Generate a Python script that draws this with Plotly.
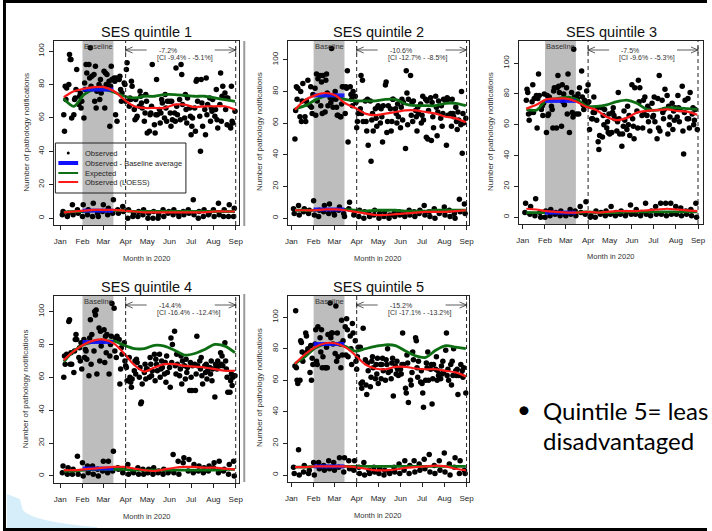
import pandas as pd
import plotly.graph_objects as go

W, H = 712, 531
FONT = "Liberation Sans, Arial, sans-serif"

# ---------------- data ----------------
panel_titles = ["SES quintile 1", "SES quintile 2", "SES quintile 3", "SES quintile 4", "SES quintile 5"]
change_pct = ["-7.2%", "-10.6%", "-7.5%", "-14.4%", "-15.2%"]
change_ci = ["[CI -9.4% - -5.1%]", "[CI -12.7% - -8.5%]", "[CI -9.6% - -5.3%]",
             "[CI -16.4% - -12.4%]", "[CI -17.1% - -13.2%]"]
month_labels = ["Jan", "Feb", "Mar", "Apr", "May", "Jun", "Jul", "Aug", "Sep"]
month_ticks = ["2020-01-01", "2020-02-01", "2020-03-01", "2020-04-01", "2020-05-01",
               "2020-06-01", "2020-07-01", "2020-08-01", "2020-09-01"]
y_ticks = [0, 20, 40, 60, 80, 100]
baseline_period = ["2020-02-01", "2020-03-15"]
post_period = ["2020-04-01", "2020-09-01"]

# weekday observed counts (Jan 6 - Aug 31)
q1_weekday = [62, 52, 79, 71, 78, 80, 98, 95, 95, 60, 62, 71, 72, 77, 89, 68, 73, 75, 66, 70,
              60, 81, 77, 92, 87, 92, 84, 102, 79, 85, 86, 70, 91, 66, 76, 80, 71, 83, 75, 78,
              88, 66, 87, 80, 86, 82, 55, 79, 91, 83, 84, 82, 62, 84, 58, 83, 85, 77, 70, 75, 81, 80,
              70, 89, 93, 67, 72, 71, 82, 79, 65, 59, 71, 60, 61, 67, 76, 73, 69, 66, 58, 63, 74, 70,
              51, 52, 62, 63, 67, 92, 56, 51, 62, 83, 62, 65, 57, 63, 71, 69, 60, 74, 66, 58, 70,
              70, 63, 55, 70, 59, 63, 58, 90, 67, 62, 71, 59, 92, 86, 68, 60, 74, 65, 57, 72, 66, 61,
              50, 55, 60, 66, 52, 82, 83, 70, 61, 40, 83, 69, 55, 65, 50, 84, 62, 68, 72, 58, 66, 64, 71,
              61, 65, 77, 59, 54, 68, 87, 58, 73, 79, 75, 65, 72, 56, 72, 55, 54, 79, 58, 57, 64]
q2_weekday = [50, 68, 83, 75, 82, 64, 80, 61, 74, 85, 64, 61, 74, 72, 87, 71, 83, 70, 66, 78,
              82, 65, 91, 74, 88, 90, 71, 86, 66, 90, 67, 87, 91, 79, 71, 76, 73, 107, 75, 70,
              80, 75, 70, 65, 65, 64, 64, 72, 83, 83, 66, 83, 82, 93, 48, 83, 78, 75, 71, 80, 77, 73,
              57, 61, 66, 69, 90, 66, 87, 61, 74, 61, 55, 75, 46, 74, 36, 62, 66, 55, 69, 63, 58, 70,
              71, 60, 69, 64, 48, 71, 84, 86, 54, 61, 71, 69, 55, 61, 75, 75, 69, 66, 60, 72, 64,
              57, 70, 75, 62, 73, 44, 93, 79, 59, 75, 90, 65, 73, 61, 74, 68, 64, 55, 70, 66, 72, 60,
              65, 77, 62, 75, 51, 74, 50, 68, 76, 49, 73, 64, 57, 77, 70, 52, 67, 74, 63, 71, 58, 66, 75,
              74, 46, 76, 65, 75, 66, 58, 75, 66, 64, 70, 61, 56, 67, 62, 59, 80, 41, 66, 60, 63]
q3_weekday = [76, 83, 81, 67, 63, 68, 75, 86, 68, 77, 79, 58, 77, 93, 79, 70, 72, 66, 74, 80,
              55, 79, 66, 67, 78, 72, 70, 58, 82, 84, 58, 84, 92, 85, 81, 59, 86, 75, 80, 73,
              84, 67, 93, 77, 55, 81, 68, 65, 109, 78, 67, 77, 80, 67, 84, 95, 78, 73, 70, 76, 82, 74,
              86, 75, 57, 64, 64, 68, 78, 68, 63, 71, 49, 44, 53, 71, 52, 66, 60, 70, 58, 62, 55, 67,
              54, 55, 68, 71, 66, 64, 56, 62, 81, 64, 54, 46, 54, 59, 69, 63, 57, 72, 60, 66, 53,
              86, 64, 59, 51, 84, 69, 58, 89, 75, 84, 66, 58, 76, 67, 78, 66, 72, 62, 70, 56, 74, 65,
              66, 78, 62, 51, 77, 58, 92, 56, 76, 68, 64, 70, 83, 79, 54, 72, 60, 65, 74, 57, 69, 63, 71,
              65, 79, 71, 62, 70, 85, 56, 41, 68, 76, 64, 77, 64, 58, 81, 67, 71, 60, 63, 70, 57]
q4_weekday = [60, 73, 68, 73, 74, 94, 95, 68, 75, 68, 63, 76, 83, 86, 83, 72, 78, 70, 81, 65,
              83, 72, 77, 76, 71, 61, 84, 95, 68, 86, 76, 100, 98, 101, 62, 90, 70, 88, 79, 82,
              89, 69, 85, 75, 86, 62, 73, 80, 85, 105, 102, 76, 84, 72, 85, 83, 56, 65, 78, 74, 81, 70,
              67, 66, 58, 72, 60, 57, 54, 59, 64, 70, 62, 71, 69, 60, 66, 44, 45, 56, 63, 68, 59, 65,
              65, 60, 72, 68, 61, 64, 74, 58, 71, 68, 64, 74, 60, 65, 70, 66, 62, 69, 57, 73, 63,
              66, 54, 84, 69, 80, 88, 67, 62, 74, 68, 61, 65, 73, 56, 70, 67, 59, 71, 63, 66, 52, 69,
              60, 52, 67, 68, 52, 62, 85, 67, 70, 65, 72, 61, 56, 67, 63, 68, 59, 64, 66, 62, 70, 58, 65,
              48, 68, 66, 65, 70, 67, 75, 68, 73, 67, 81, 70, 65, 60, 51, 51, 58, 62, 55, 60, 61]
q5_weekday = [69, 104, 68, 60, 58, 60, 85, 84, 78, 72, 77, 90, 88, 78, 80, 65, 82, 60, 74, 70,
              83, 92, 72, 70, 94, 87, 78, 92, 68, 75, 68, 68, 81, 68, 89, 109, 87, 90, 90, 83,
              77, 107, 72, 90, 75, 83, 68, 98, 76, 85, 94, 76, 99, 92, 75, 88, 80, 70, 96, 90, 85, 72,
              67, 75, 81, 81, 58, 55, 59, 93, 73, 57, 51, 71, 66, 56, 62, 72, 75, 68, 61, 70, 64, 74,
              58, 70, 61, 70, 74, 66, 60, 73, 70, 80, 65, 66, 61, 71, 74, 50, 69, 64, 72, 67, 63,
              67, 64, 70, 90, 70, 55, 52, 76, 71, 46, 60, 57, 65, 78, 73, 87, 85, 68, 62, 72, 59, 66,
              58, 52, 43, 60, 71, 68, 78, 60, 67, 70, 45, 61, 70, 67, 75, 60, 66, 63, 61, 69, 64, 72, 65,
              79, 90, 63, 67, 60, 70, 57, 72, 63, 80, 66, 63, 67, 51, 63, 70, 63, 66, 62, 68, 52]

# weekend observed counts (Jan 4 - Aug 30)
q1_weekend = [2, 4, 1, 3, 8, 2, 5, 3, 1, 8, 2, 5, 1, 9, 3, 1, 4, 8, 2, 6, 3, 11, 5, 3, 7, 4,
              0, 5, 1, 3, 1, 4, 2, 5, 0, 3, 0, 4, 0, 2, 5, 1, 3, 4, 2, 5, 3, 1, 4, 2, 5, 3,
              11, 2, 0, 4, 1, 5, 2, 3, 5, 1, 9, 2, 1, 5, 1, 8, 1, 6]
q2_weekend = [6, 3, 8, 2, 4, 6, 3, 5, 11, 2, 1, 5, 4, 8, 3, 9, 4, 2, 5, 7, 3, 1, 6, 10, 2, 4,
              1, 5, 0, 4, 3, 1, 2, 5, 0, 3, 1, 4, 0, 2, 3, 1, 4, 2, 3, 1, 5, 2, 4, 1, 3, 5,
              8, 2, 4, 1, 6, 0, 3, 4, 7, 2, 5, 1, 3, 0, 12, 4, 9, 3]
q3_weekend = [3, 9, 2, 7, 1, 12, 3, 0, 0, 4, 1, 5, 2, 3, 1, 4, 2, 1, 5, 2, 4, 1, 7, 3, 2, 10,
              0, 1, 0, 4, 2, 3, 1, 4, 2, 7, 1, 3, 2, 4, 1, 3, 8, 2, 2, 5, 1, 3, 9, 2, 1, 4,
              7, 2, 9, 2, 9, 1, 9, 2, 7, 2, 6, 1, 4, 2, 5, 1, 9, 0]
q4_weekend = [2, 6, 1, 5, 1, 4, 12, 1, 8, 0, 6, 2, 6, 1, 4, 0, 3, 9, 2, 9, 3, 15, 5, 4, 2, 4,
              7, 1, 3, 2, 5, 1, 4, 1, 2, 4, 1, 5, 2, 3, 1, 4, 2, 3, 13, 2, 9, 1, 8, 11, 3, 10,
              2, 7, 3, 6, 2, 5, 3, 6, 5, 8, 2, 9, 3, 4, 1, 7, 9, 0]
q5_weekend = [5, 1, 16, 0, 2, 6, 1, 3, 8, 0, 8, 4, 6, 3, 9, 4, 8, 3, 5, 11, 2, 11, 9, 4, 3, 9,
              5, 1, 8, 0, 3, 1, 5, 2, 1, 4, 0, 3, 2, 1, 5, 2, 7, 1, 3, 9, 1, 6, 9, 2, 7, 3,
              10, 4, 13, 2, 6, 1, 9, 3, 14, 2, 7, 0, 5, 11, 1, 9, 3, 1]

# fitted curves (fortnightly reading points)
curve_dates = ["2020-01-06", "2020-01-20", "2020-02-03", "2020-02-17", "2020-03-02", "2020-03-16",
               "2020-03-30", "2020-04-13", "2020-04-27", "2020-05-11", "2020-05-25", "2020-06-08",
               "2020-06-22", "2020-07-06", "2020-07-20", "2020-08-03", "2020-08-17", "2020-08-31"]
q1_expected = [71.5, 67, 74, 77, 77, 75.5, 73, 72, 73, 73, 74, 74, 73.5, 73, 73, 72, 71, 70]
q1_loess = [72.5, 76, 77.5, 78.5, 78.5, 76, 71, 67, 66, 66, 66, 68, 68, 66.5, 67, 67, 67, 65]
q1_expected_we = [3.5, 4, 4, 4.5, 4.5, 4.5, 4.5, 4, 4, 4, 4, 4, 4, 4, 4, 4, 4, 4]
q1_loess_we = [3.5, 4, 4.5, 5, 5, 5, 4.5, 4, 3.5, 3.5, 3.5, 3.5, 3.5, 3.5, 3.5, 4, 4, 4]
q2_expected = [69, 71, 74.5, 77, 77, 75, 74, 74, 74, 75, 75, 72, 71, 71, 71, 72.5, 72.5, 71]
q2_loess = [68.5, 74.5, 77.5, 79, 77.5, 72.5, 69.5, 66, 65, 66, 67, 68, 68, 67, 66, 64, 63, 60.5]
q2_expected_we = [5, 5, 5, 5.5, 5.5, 5.5, 5, 4.5, 5, 5, 5, 4.5, 4.5, 4.5, 5, 5, 5, 5]
q2_loess_we = [5, 5, 5, 5.5, 5.5, 5, 4, 3, 2, 2, 2.5, 3, 3.5, 4, 4, 4, 4.5, 5]
q3_expected = [70, 69.5, 76, 77, 78, 76.5, 72, 72, 73, 75, 76, 74, 70, 69.5, 71, 71, 70.5, 70]
q3_loess = [70.5, 73, 76.5, 77, 77, 75, 71.5, 69.5, 65, 63, 64.5, 68, 69, 69.5, 70, 69, 68.5, 66.5]
q3_expected_we = [3, 3, 3, 3, 3, 3, 3.5, 3, 3, 3, 3.5, 3.5, 3.5, 3.5, 3.5, 3.5, 3.5, 3.5]
q3_loess_we = [5.5, 5, 4, 3.5, 3, 3, 3.5, 3, 3.5, 4, 4, 4, 4.5, 5, 5.5, 5, 4.5, 4]
q4_expected = [69.5, 76, 80, 81.5, 82, 82, 79.5, 77.5, 77.5, 79.5, 79, 76.5, 73.5, 74.5, 77, 80, 79, 75]
q4_loess = [70.5, 76, 80, 82.5, 83, 80.5, 74.5, 67.5, 63.5, 66, 68, 68, 67, 66.5, 66, 65, 64, 64]
q4_expected_we = [3, 3, 3.5, 4, 4, 4, 4, 3.5, 3.5, 3.5, 3.5, 3.5, 3.5, 3.5, 3.5, 3.5, 4, 4]
q4_loess_we = [3.5, 3.5, 4, 4.5, 5, 5.5, 5.5, 4.5, 3.5, 3, 4, 5, 5.5, 5.5, 5, 5, 4.5, 4]
q5_expected = [70.5, 75, 80.5, 83, 83, 81.5, 78.5, 80, 81.5, 82.5, 82, 78.5, 75.5, 74.5, 79, 82, 81, 80]
q5_loess = [70.5, 76.5, 81, 83.5, 83.5, 81, 76, 70, 67.5, 67, 68.5, 68.5, 67.5, 67, 67, 66, 65, 62.5]
q5_expected_we = [5, 5, 5.5, 5.5, 5.5, 5.5, 5.5, 5.5, 5.5, 5.5, 5.5, 5.5, 5.5, 5.5, 5.5, 5.5, 5.5, 5.5]
q5_loess_we = [5, 5, 5.5, 5.5, 5.5, 5.5, 5, 4, 3, 3, 3.5, 4.5, 5, 5.5, 6, 5.5, 4, 3]

baseline_avg = [77, 77.5, 75.5, 81.5, 83]
baseline_avg_we = [4.5, 5.5, 3, 4.5, 5.5]

weekday_series = [q1_weekday, q2_weekday, q3_weekday, q4_weekday, q5_weekday]
weekend_series = [q1_weekend, q2_weekend, q3_weekend, q4_weekend, q5_weekend]
expected_series = [q1_expected, q2_expected, q3_expected, q4_expected, q5_expected]
loess_series = [q1_loess, q2_loess, q3_loess, q4_loess, q5_loess]
expected_we_series = [q1_expected_we, q2_expected_we, q3_expected_we, q4_expected_we, q5_expected_we]
loess_we_series = [q1_loess_we, q2_loess_we, q3_loess_we, q4_loess_we, q5_loess_we]

# ---------------- layout geometry (pixels) ----------------
boxes = [(52, 41, 239, 225), (288, 41, 471, 225), (522, 41, 708, 224),
         (52, 296, 239, 483), (288, 296, 471, 482)]
y_ranges = [[-4.1, 106.1], [-4.3, 111.8], [-4.4, 114.4], [-4.3, 109.5], [-4.4, 113.4]]
x_ranges = [["2019-12-24", "2020-09-06"], ["2019-12-27", "2020-09-04"], ["2019-12-27", "2020-09-08"],
            ["2019-12-24", "2020-09-06"], ["2019-12-27", "2020-09-04"]]

GREEN = "#0d6e14"
RED = "#ff1a1a"
BLUE = "#1010ff"
TXT = "#262626"


def px(x):
    return x / W


def py(y):
    return 1 - y / H


weekday_dates = pd.bdate_range("2020-01-06", periods=len(q1_weekday))
all_days = pd.date_range("2020-01-04", "2020-08-30")
weekend_dates = all_days[all_days.weekday >= 5]

fig = go.Figure()
shapes = []
annotations = []

for i in range(5):
    n = i + 1
    xr = "x" if n == 1 else f"x{n}"
    yr = "y" if n == 1 else f"y{n}"
    l, t, r, b = boxes[i]
    box_h = b - t

    # points
    fig.add_trace(go.Scatter(x=weekday_dates, y=weekday_series[i][:len(weekday_dates)], mode="markers",
                             marker=dict(size=5.5, color="black"), xaxis=xr, yaxis=yr, hoverinfo="skip"))
    fig.add_trace(go.Scatter(x=weekend_dates[:len(weekend_series[i])], y=weekend_series[i], mode="markers",
                             marker=dict(size=5.5, color="black"), xaxis=xr, yaxis=yr, hoverinfo="skip"))
    # expected
    for ys in (expected_series[i], expected_we_series[i]):
        fig.add_trace(go.Scatter(x=curve_dates, y=ys, mode="lines",
                                 line=dict(color=GREEN, width=2.8, shape="spline", smoothing=0.8),
                                 xaxis=xr, yaxis=yr, hoverinfo="skip"))
    # baseline averages
    for bv in (baseline_avg[i], baseline_avg_we[i]):
        fig.add_trace(go.Scatter(x=baseline_period, y=[bv, bv], mode="lines",
                                 line=dict(color=BLUE, width=4), opacity=0.9,
                                 xaxis=xr, yaxis=yr, hoverinfo="skip"))
    # loess
    for ys in (loess_series[i], loess_we_series[i]):
        fig.add_trace(go.Scatter(x=curve_dates, y=ys, mode="lines",
                                 line=dict(color=RED, width=2.2, shape="spline", smoothing=0.8),
                                 xaxis=xr, yaxis=yr, hoverinfo="skip"))

    axis_common = dict(showline=True, linecolor="#222", linewidth=1, mirror=True, showgrid=False,
                       zeroline=False, ticks="outside", ticklen=4, tickwidth=1, tickcolor="#222",
                       tickfont=dict(size=8, color=TXT, family=FONT))
    fig.layout[f"xaxis{'' if n == 1 else n}"] = dict(
        domain=[px(l), px(r)], range=x_ranges[i], type="date", anchor=yr,
        tickmode="array", tickvals=month_ticks, ticktext=month_labels, ticklabelstandoff=4, **axis_common)
    fig.layout[f"yaxis{'' if n == 1 else n}"] = dict(
        domain=[py(b), py(t)], range=y_ranges[i], anchor=xr,
        tickmode="array", tickvals=y_ticks, tickangle=-90, ticklabelstandoff=2, **axis_common)

    # baseline shading
    shapes.append(dict(type="rect", xref=xr, yref=f"{yr} domain", x0=baseline_period[0], x1=baseline_period[1],
                       y0=0, y1=1, fillcolor="#bdbdbd", line=dict(width=0), layer="below"))
    # dashed lines
    for xd in post_period:
        shapes.append(dict(type="line", xref=xr, yref=f"{yr} domain", x0=xd, x1=xd, y0=0, y1=1,
                           line=dict(color="#222", width=1, dash="4px,3px")))
    # arrows
    ay = 1 - 9 / box_h
    for xd, sgn in ((post_period[0], 1), (post_period[1], -1)):
        shapes.append(dict(type="line", xref=xr, yref=f"{yr} domain", xsizemode="pixel", xanchor=xd,
                           x0=0, x1=21 * sgn, y0=ay, y1=ay, line=dict(color="#333", width=0.8)))
        for dy in (3, -3):
            shapes.append(dict(type="line", xref=xr, yref=f"{yr} domain", xsizemode="pixel", xanchor=xd,
                               ysizemode="pixel", yanchor=ay, x0=0, x1=7 * sgn, y0=0, y1=dy,
                               line=dict(color="#333", width=0.8)))
        shapes.append(dict(type="line", xref=xr, yref=f"{yr} domain", xsizemode="pixel", xanchor=xd,
                           ysizemode="pixel", yanchor=ay, x0=0, x1=0, y0=-3.5, y1=3.5,
                           line=dict(color="#333", width=0.8)))
    annotations.append(dict(text=change_pct[i], xref=xr, yref=f"{yr} domain", x=post_period[0], xshift=31,
                            y=1 - 9 / box_h, xanchor="left", yanchor="middle", showarrow=False,
                            font=dict(size=7, color="#333", family=FONT)))
    annotations.append(dict(text=change_ci[i], xref=xr, yref=f"{yr} domain", x=post_period[0], xshift=29,
                            y=1 - 17 / box_h, xanchor="left", yanchor="middle", showarrow=False,
                            font=dict(size=7, color="#333", family=FONT)))
    annotations.append(dict(text="Baseline", xref=xr, yref=f"{yr} domain", x="2020-02-23",
                            y=1 - 5 / box_h, xanchor="center", yanchor="middle", showarrow=False,
                            font=dict(size=7.5, color="#333", family=FONT)))
    # titles
    annotations.append(dict(text=panel_titles[i], xref="paper", yref="paper", x=px((l + r) / 2), y=py(t - 9),
                            xanchor="center", yanchor="middle", showarrow=False,
                            font=dict(size=14.5, color="#111", family=FONT)))
    annotations.append(dict(text="Month in 2020", xref="paper", yref="paper", x=px((l + r) / 2), y=py(b + 33),
                            xanchor="center", yanchor="middle", showarrow=False,
                            font=dict(size=7.5, color="#333", family=FONT)))
    annotations.append(dict(text="Number of pathology notifications", xref="paper", yref="paper",
                            x=px(l - 29), y=py((t + b) / 2 - 1), textangle=-90,
                            xanchor="center", yanchor="middle", showarrow=False,
                            font=dict(size=8, color="#333", family=FONT)))

# legend drawn in quintile-1 panel
leg_items = [("Observed", None, 0), ("Observed - Baseline average", BLUE, 4),
             ("Expected", GREEN, 2), ("Observed (LOESS)", RED, 2)]
shapes.append(dict(type="rect", xref="paper", yref="paper", x0=px(53), x1=px(185), y0=py(193), y1=py(143),
                   line=dict(color="#222", width=1), fillcolor="rgba(0,0,0,0)"))
for k, (lab, col, wd) in enumerate(leg_items):
    yy = [153, 163, 173, 182][k]
    if col is None:
        shapes.append(dict(type="circle", xref="paper", yref="paper", x0=px(64.5), x1=px(67.5),
                           y0=py(yy + 1.5), y1=py(yy - 1.5), fillcolor="black", line=dict(width=0)))
    else:
        shapes.append(dict(type="line", xref="paper", yref="paper", x0=px(56), x1=px(76), y0=py(yy), y1=py(yy),
                           line=dict(color=col, width=wd)))
    annotations.append(dict(text=lab, xref="paper", yref="paper", x=px(81), y=py(yy), xanchor="left",
                            yanchor="middle", showarrow=False, font=dict(size=7.5, color=TXT, family=FONT)))

# slide decorations
shapes.append(dict(type="line", xref="paper", yref="paper", x0=px(244), x1=px(244), y0=py(226), y1=py(41),
                   line=dict(color="#9a9a9a", width=2)))
shapes.append(dict(type="line", xref="paper", yref="paper", x0=px(244), x1=px(244), y0=py(482), y1=py(294),
                   line=dict(color="#9a9a9a", width=2)))


def P(x, y):
    return f"{px(x):.5f},{py(y):.5f}"


shapes.append(dict(type="path", xref="paper", yref="paper",
                   path=f"M {P(4,494)} L {P(17,499)} L {P(20,510)} Q {P(30,522)} {P(95,527)} L {P(95,528)} L {P(4,528)} Z",
                   fillcolor="#d6eef9", line=dict(width=0)))
for (x0, y0, x1, y1) in [(0, 0, 712, 3), (0, 0, 3, 531), (0, 528, 712, 531)]:
    shapes.append(dict(type="rect", xref="paper", yref="paper", x0=px(x0), x1=px(x1), y0=py(y1), y1=py(y0),
                       fillcolor="black", line=dict(width=0)))

SLIDE_FONT = "Lato, Carlito, sans-serif"
annotations.append(dict(text="•", xref="paper", yref="paper", x=px(527), y=py(408), xanchor="center",
                        yanchor="middle", showarrow=False, font=dict(size=24, color="black", family=SLIDE_FONT)))
annotations.append(dict(text="Quintile 5= leas", xref="paper", yref="paper", x=px(544), y=py(410), xanchor="left",
                        yanchor="middle", showarrow=False, font=dict(size=24, color="black", family=SLIDE_FONT)))
annotations.append(dict(text="disadvantaged", xref="paper", yref="paper", x=px(544), y=py(440), xanchor="left",
                        yanchor="middle", showarrow=False, font=dict(size=24, color="black", family=SLIDE_FONT)))

fig.update_layout(width=W, height=H, margin=dict(l=0, r=0, t=0, b=0), paper_bgcolor="white",
                  plot_bgcolor="white", showlegend=False, shapes=shapes, annotations=annotations,
                  font=dict(family=FONT))
fig.write_html("out.html", config={"displayModeBar": False},
               post_script="document.body.style.margin='0';document.body.style.overflow='hidden';"
                           "document.documentElement.style.overflow='hidden';")
